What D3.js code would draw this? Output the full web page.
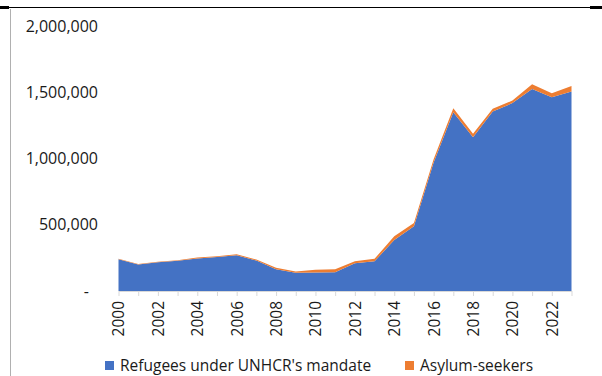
<!DOCTYPE html>
<html>
<head>
<meta charset="utf-8">
<script src="https://cdn.jsdelivr.net/npm/d3@7"></script>
<style>
  html, body { margin: 0; padding: 0; background: #fff; }
  svg { display: block; font-family: "Open Sans", "Noto Sans", sans-serif; }
</style>
</head>
<body>
<svg id="chart" width="602" height="376"></svg>
<script>
// Years shown on the x axis
const years = d3.range(2000, 2024);

// Refugees under UNHCR's mandate, per year
const refugees = [
  240000, 200000, 217000, 229000, 246000, 256000, 270000, 230000,
  164000, 138000, 140000, 142000, 210000, 224000, 385000, 488000,
  970000, 1350000, 1160000, 1354000, 1418000, 1525000, 1463000, 1505000
];

// Asylum-seekers, per year
const asylumSeekers = [
  3000, 3000, 3000, 3000, 6000, 6000, 7000, 7000,
  11000, 9000, 20000, 22000, 14000, 19000, 28000, 26000,
  25000, 30000, 26000, 21000, 19000, 35000, 30000, 43000
];

// Y axis tick values
const yTicks = [0, 500000, 1000000, 1500000, 2000000];

const seriesNames = ["Refugees under UNHCR's mandate", "Asylum-seekers"];
const seriesColors = ["#4472C4", "#ED7D31"];

const svg = d3.select("#chart");

// Page frame: top rule and left border
svg.append("line").attr("x1", 0).attr("x2", 602).attr("y1", 7.5).attr("y2", 7.5)
  .attr("stroke", "#000").attr("stroke-width", 1);
svg.append("rect").attr("x", 0).attr("y", 6).attr("width", 9).attr("height", 3).attr("fill", "#000");
svg.append("rect").attr("x", 590).attr("y", 6).attr("width", 12).attr("height", 3).attr("fill", "#000");
svg.append("line").attr("x1", 10.5).attr("x2", 10.5).attr("y1", 9).attr("y2", 376)
  .attr("stroke", "#b0b0b0").attr("stroke-width", 1);

const x = d3.scaleLinear().domain([2000, 2023]).range([118.5, 571.5]);
const y = d3.scaleLinear().domain([0, 2000000]).range([291, 26]);

const rows = years.map((yr, i) => ({ year: yr, refugees: refugees[i], asylum: asylumSeekers[i] }));
const stack = d3.stack().keys(["refugees", "asylum"]);
const layers = stack(rows);

const area = d3.area()
  .x(d => x(d.data.year))
  .y0(d => y(d[0]))
  .y1(d => y(d[1]));

svg.append("g").selectAll("path")
  .data(layers)
  .join("path")
  .attr("d", area)
  .attr("fill", (d, i) => seriesColors[i]);

// X axis: a tick every year, a label every second year
const xAxis = svg.append("g").attr("transform", `translate(0,${y(0)})`)
  .call(d3.axisBottom(x)
    .tickValues(years)
    .tickSize(5)
    .tickSizeOuter(0)
    .tickFormat(d => d % 2 === 0 ? String(d) : ""));
xAxis.select(".domain").attr("stroke", "#D9D9D9");
xAxis.selectAll(".tick line").attr("stroke", "#D9D9D9");
xAxis.selectAll(".tick text")
  .attr("fill", "#1a1a1a")
  .attr("font-size", 15.5)
  .attr("font-family", "'Open Sans', 'Noto Sans', sans-serif")
  .attr("text-anchor", "end")
  .attr("transform", "rotate(-90)")
  .attr("x", -10)
  .attr("y", 0)
  .attr("dy", "0.35em");

// Y axis labels only
const yAxis = svg.append("g").attr("transform", "translate(98,0)")
  .call(d3.axisLeft(y)
    .tickValues(yTicks)
    .tickSize(0)
    .tickPadding(0)
    .tickFormat(d => d === 0 ? "-" : d3.format(",")(d)));
yAxis.select(".domain").remove();
yAxis.selectAll(".tick text")
  .attr("fill", "#1a1a1a")
  .attr("font-size", 16)
  .attr("font-family", "'Open Sans', 'Noto Sans', sans-serif");
yAxis.selectAll(".tick").filter(d => d === 0).select("text").attr("x", -9);

// Legend
const legendItems = [
  { name: seriesNames[0], color: seriesColors[0], x: 105 },
  { name: seriesNames[1], color: seriesColors[1], x: 405 }
];
const legend = svg.append("g");
legendItems.forEach(it => {
  legend.append("rect").attr("x", it.x).attr("y", 361).attr("width", 9).attr("height", 9).attr("fill", it.color);
  legend.append("text").attr("x", it.x + 15).attr("y", 371)
    .attr("fill", "#1a1a1a").attr("font-size", 15.5)
    .text(it.name);
});
</script>
</body>
</html>
